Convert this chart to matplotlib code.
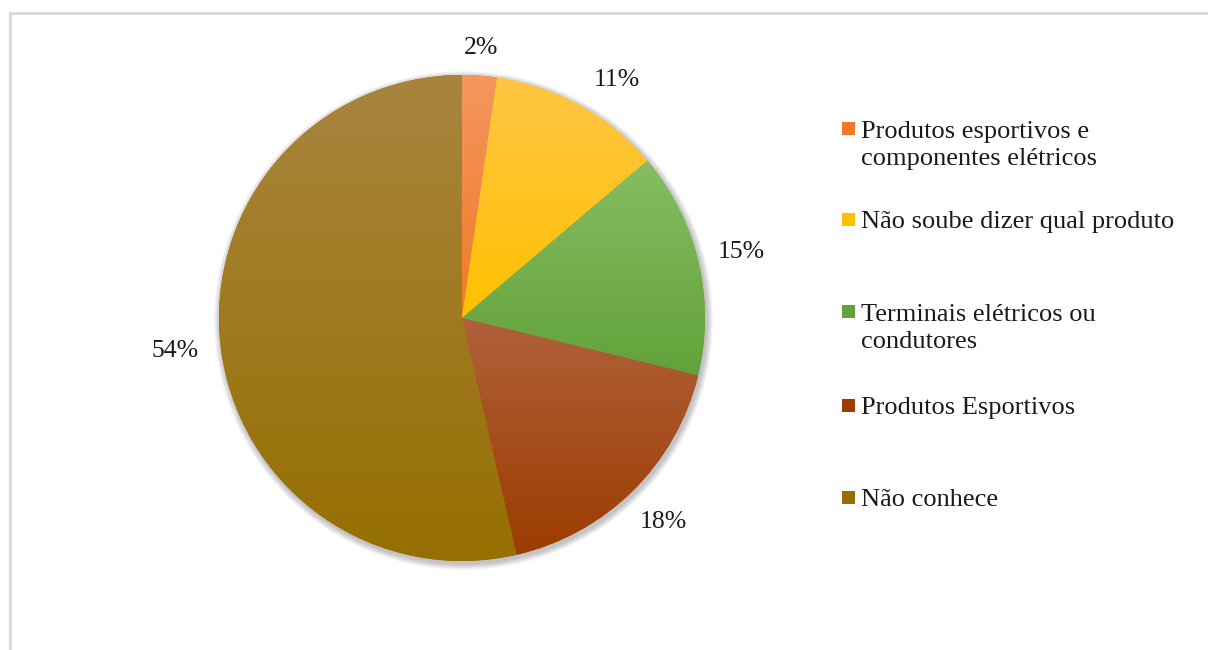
import matplotlib
matplotlib.use('Agg')
import matplotlib.pyplot as plt
import numpy as np
from matplotlib.colors import LinearSegmentedColormap
from matplotlib.patches import Circle, Rectangle

plt.rcParams['font.family'] = ['Liberation Serif', 'DejaVu Serif']

# ---- data ----
categories = ["Produtos esportivos e\ncomponentes elétricos",
              "Não soube dizer qual produto",
              "Terminais elétricos ou\ncondutores",
              "Produtos Esportivos",
              "Não conhece"]
shares = [2.3, 11.5, 15.0, 17.6, 53.6]
pct_labels = ["2%", "11%", "15%", "18%", "54%"]

# gradient colours (top -> bottom) per slice
top_colors = ['#F4975F', '#FFC644', '#86BD62', '#B0613B', '#A8853F']
bot_colors = ['#EF7A24', '#FFC000', '#62A23A', '#9C3C00', '#966F00']

W, H = 1208, 650
fig = plt.figure(figsize=(W / 100, H / 100), dpi=100)
ax = fig.add_axes([0, 0, 1, 1])

cx, cy, R = 462, H - 318, 243

# soft shadow under the pie
for k in range(7):
    ax.add_patch(Circle((cx + 1.5, cy - 2.5), R + 1 + k * 0.9, color='black',
                        alpha=0.035, lw=0, zorder=0))

wedges, _ = ax.pie(shares, startangle=90, counterclock=False, center=(cx, cy),
                   radius=R, colors=bot_colors, wedgeprops=dict(lw=0))

# vertical gradient fill in each slice
for w, ct, cb in zip(wedges, top_colors, bot_colors):
    verts = w.get_path().vertices
    x0, x1 = verts[:, 0].min(), verts[:, 0].max()
    y0, y1 = verts[:, 1].min(), verts[:, 1].max()
    cmap = LinearSegmentedColormap.from_list('g', [cb, ct])
    grad = np.linspace(0, 1, 256).reshape(-1, 1)
    im = ax.imshow(grad, cmap=cmap, extent=(x0, x1, y0, y1), origin='lower',
                   aspect='auto', zorder=2, interpolation='bilinear')
    im.set_clip_path(w)

# percentage labels outside the slices
label_dist = [1.115, 1.17, 1.18, 1.18, 1.19]
label_shift = [0, -4, 0, 0, 0]   # degrees, nudges like Excel does
for w, lab, d, s in zip(wedges, pct_labels, label_dist, label_shift):
    ang = np.deg2rad((w.theta1 + w.theta2) / 2 + s)
    ax.text(cx + d * R * np.cos(ang), cy + d * R * np.sin(ang), lab,
            ha='center', va='center', fontsize=18.5, color='#1a1a1a', zorder=5)

# legend drawn by hand to match the uneven spacing
legend_y = [H - 128, H - 219, H - 311, H - 405, H - 497]
line_gap = 29
for lab, c, y in zip(categories, bot_colors, legend_y):
    ax.add_patch(Rectangle((842, y - 7), 13, 13, color=c, lw=0, zorder=5))
    n = lab.count('\n')
    ax.text(861, y - 3 - n * line_gap / 2, lab, ha='left', va='center',
            fontsize=19, color='#1a1a1a', linespacing=1.33, zorder=5)

# chart frame (top and left visible)
ax.plot([10, W], [H - 13, H - 13], color='#D9D9D9', lw=2, zorder=1)
ax.plot([10, 10], [H - 13, 0], color='#D9D9D9', lw=2, zorder=1)

ax.set_xlim(0, W)
ax.set_ylim(0, H)
ax.set_aspect('auto')
ax.axis('off')

fig.savefig('out.png', dpi=100, facecolor='white')
plt.close()
